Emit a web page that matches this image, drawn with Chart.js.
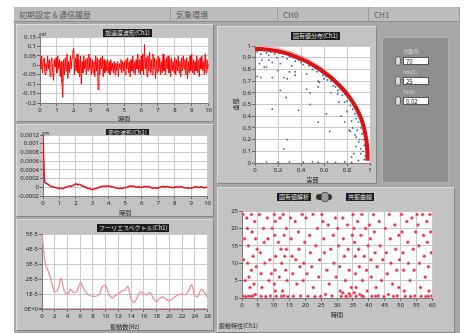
<!DOCTYPE html>
<html>
<head>
<meta charset="utf-8">
<script src="https://cdn.jsdelivr.net/npm/chart.js@4/dist/chart.umd.min.js"></script>
<style>
  body { margin: 0; width: 466px; height: 333px; background: #fff; position: relative; overflow: hidden;
         font-family: "Noto Sans CJK JP", "Noto Sans", sans-serif; }
  .abs { position: absolute; }
  #frame { left: 14px; top: 7px; width: 446px; height: 326px; background: #a8a8a8; }
  .tab { top: 7px; height: 15px; background: #bdbdbd; border-right: 1px solid #9a9a9a; border-bottom: 1px solid #8e8e8e;
         font-size: 8px; line-height: 15px; color: #5a5a5a; padding-left: 5px; box-sizing: border-box; }
  .panel { background: #c3c3c3; border: 1px solid; border-color: #dcdcdc #858585 #858585 #dcdcdc; box-sizing: border-box; }
  .ttl { background: #1a1a1a; color: #e8e8e8; font-size: 6px; line-height: 8px; padding: 0 2px; white-space: nowrap; }
  .unit { font-size: 5px; color: #222; }
  .lbl { font-size: 6px; color: #222; white-space: nowrap; }
  canvas { position: absolute; }
  .num { background: #fff; border: 1px solid #555; font-size: 6px; line-height: 7px; color: #111; padding-left: 2px; box-sizing: border-box; }
  .spin { background: #d8d8d8; border: 1px solid #666; border-radius: 3px; box-sizing: border-box; }
</style>
</head>
<body>
<div id="frame" class="abs"></div>
<div class="abs tab" style="left:14px;width:157px;">初期設定＆通信履歴</div>
<div class="abs tab" style="left:171px;width:107px;">気象環境</div>
<div class="abs tab" style="left:278px;width:91px;">CH0</div>
<div class="abs tab" style="left:369px;width:91px;">CH1</div>

<div class="abs panel" style="left:16px;top:24px;width:198px;height:98px;"></div>
<div class="abs panel" style="left:16px;top:124px;width:198px;height:93px;"></div>
<div class="abs panel" style="left:16px;top:219px;width:198px;height:112px;"></div>
<div class="abs panel" style="left:217px;top:26px;width:160px;height:158px;"></div>
<div class="abs" style="left:382px;top:37px;width:67px;height:146px;background:#8e8e8e;border:1px solid #b0b0b0;box-sizing:border-box;"></div>
<div class="abs panel" style="left:217px;top:187px;width:238px;height:146px;"></div>

<div class="abs ttl" style="left:103px;top:29px;">加速度波形(Ch1)</div>
<div class="abs ttl" style="left:106px;top:129px;">変位波形(Ch1)</div>
<div class="abs ttl" style="left:97px;top:224px;">フーリエスペクトル(Ch1)</div>
<div class="abs ttl" style="left:291px;top:32px;">固有値分布(Ch1)</div>
<div class="abs ttl" style="left:277px;top:193px;">固有値解析</div>
<div class="abs" style="left:316px;top:194px;width:16px;height:6px;background:#333;border-radius:3px;"></div>
<div class="abs" style="left:321px;top:192px;width:8px;height:10px;background:#9a9a9a;border-radius:3px;border:1px solid #555;box-sizing:border-box;"></div>
<div class="abs ttl" style="left:346px;top:193px;">共振曲線</div>
<div class="abs lbl" style="left:219px;top:321px;">振動特性(Ch1)</div>

<div class="abs unit" style="left:39px;top:30px;">gal</div>
<div class="abs unit" style="left:42px;top:129px;">cm</div>

<div class="abs lbl" style="left:403px;top:47px;font-size:5px;color:#ddd;">次数(0)</div>
<div class="abs spin" style="left:395px;top:56px;width:6px;height:10px;"></div>
<div class="abs num" style="left:403px;top:57px;width:26px;height:8px;">70</div>
<div class="abs lbl" style="left:403px;top:68px;font-size:5px;color:#ddd;">nm(0)</div>
<div class="abs spin" style="left:395px;top:76px;width:6px;height:10px;"></div>
<div class="abs num" style="left:403px;top:77px;width:26px;height:8px;">25</div>
<div class="abs lbl" style="left:403px;top:88px;font-size:5px;color:#ddd;">Fe(0)</div>
<div class="abs spin" style="left:395px;top:96px;width:6px;height:10px;"></div>
<div class="abs num" style="left:403px;top:97px;width:26px;height:8px;">0.02</div>

<canvas id="c1" width="197" height="92" style="left:16px;top:30px;"></canvas>
<canvas id="c2" width="196" height="88" style="left:16px;top:128px;"></canvas>
<canvas id="c3" width="196" height="104" style="left:16px;top:226px;"></canvas>
<canvas id="c4" width="142" height="143" style="left:232px;top:40px;"></canvas>
<canvas id="c5" width="215" height="114" style="left:222px;top:204px;"></canvas>

<script>
// ── Data ─────────────────────────────────────────────────
const ACC_DT = 0.05;   // s
const ACC = [
  0.03,-0.02,0.05,-0.04,0.02,0.04,-0.05,0.01,-0.03,0.05,-0.02,0.03,-0.06,0.02,0.04,-0.03,-0.08,0.03,-0.01,0.04,
  -0.04,0.05,-0.02,0.03,-0.06,0.02,-0.09,-0.17,0.03,-0.05,0.04,-0.03,0.06,-0.07,0.02,-0.04,0.05,-0.02,0.04,0.07,
  0.09,-0.05,0.04,-0.03,0.06,-0.04,0.03,-0.06,0.05,-0.1,0.02,-0.04,0.05,-0.02,0.03,-0.05,0.04,-0.03,0.06,-0.02,
  0.04,-0.05,0.03,-0.04,0.02,-0.06,0.05,-0.03,0.04,-0.13,0.03,-0.05,0.04,-0.02,0.05,-0.06,0.03,-0.04,0.02,-0.03,
  0.03,-0.04,0.02,-0.05,0.03,-0.03,0.01,-0.04,0.02,-0.05,0.01,-0.03,0.02,-0.06,0.01,-0.02,0.03,-0.04,0.02,-0.03,
  0.02,-0.05,0.03,-0.02,0.04,-0.04,0.02,-0.06,0.03,-0.03,0.05,-0.04,0.02,-0.05,0.03,-0.02,0.06,-0.04,0.03,-0.05,
  0.05,-0.03,0.06,-0.05,0.11,-0.02,0.04,-0.06,0.05,-0.03,0.07,-0.04,0.03,-0.05,0.06,-0.02,0.04,-0.07,0.03,-0.04,
  0.05,-0.03,0.04,-0.05,0.02,-0.04,0.06,-0.03,0.03,-0.05,0.04,-0.02,0.05,-0.04,0.03,-0.06,0.04,-0.03,0.02,-0.04,
  0.04,-0.05,0.03,-0.03,0.05,-0.04,0.02,-0.06,0.04,-0.03,0.05,-0.02,0.03,-0.05,0.04,-0.07,0.02,-0.04,0.05,-0.03,
  0.06,-0.04,0.03,-0.05,0.02,-0.03,0.05,-0.04,0.03,-0.06,0.04,-0.02,0.05,-0.03,0.02,-0.05,0.06,-0.04,0.03,-0.02,0.01
];

const DISP_DT = 0.1;   // s
const DISP = [
  0.0012,0.00012,0.00009,0.00007,0.00004,0.00002,0.00001,0.0,-0.00001,-0.00002,
  -0.00003,-0.00002,-0.00003,-0.00001,0.0,0.00002,0.00003,0.00002,0.00004,0.00006,
  0.00008,0.00006,0.00007,0.00005,0.00003,0.00002,0.0,-0.00002,-0.00003,-0.00004,
  -0.00005,-0.00004,-0.00003,-0.00002,0.0,0.00001,0.00002,0.00003,0.00002,0.00003,
  0.00003,0.00002,0.00001,0.0,-0.00001,-0.00002,-0.00003,-0.00002,-0.00003,-0.00001,
  -0.00001,0.0,0.00002,0.00003,0.00002,0.00003,0.00001,0.0,0.00001,0.0,
  0.0,0.00001,0.00002,0.00001,0.00002,0.0,-0.00001,-0.00002,-0.00001,-0.00002,
  -0.00001,0.0,0.00001,0.00002,0.00001,0.00002,0.00001,0.0,0.0,-0.00001,
  0.0,0.00001,0.0,0.00001,0.00001,0.0,-0.00001,-0.00001,-0.00002,-0.00001,
  -0.00002,-0.00001,0.0,0.00001,0.0,0.0,0.00001,0.0,-0.00001,0.0,0.0
];

const FFT_DF = 0.5;    // Hz
const FFT = [   // x 1E-5
  5.0,3.1,2.5,1.8,1.15,1.3,2.05,1.2,1.0,1.3,1.1,1.2,1.75,1.4,1.05,0.9,0.85,0.85,1.0,1.5,
  1.55,1.0,0.75,0.9,1.0,1.2,1.25,1.5,0.65,0.45,0.8,1.15,1.0,0.95,1.1,0.7,0.5,0.7,0.8,0.65,
  0.55,0.7,0.85,0.95,1.0,0.95,1.2,1.6,0.9,0.85,1.3,1.1,0.75
];

const ARC_OUTER = [
  [0,1.0],[0.1,0.995],[0.2,0.98],[0.3,0.954],[0.4,0.917],[0.5,0.866],[0.6,0.8],[0.7,0.714],
  [0.8,0.6],[0.85,0.527],[0.9,0.436],[0.95,0.312],[0.98,0.199],[0.995,0.1],[1.0,0.0]
];
const ARC_RED = [
  [0,0.975],[0.05,0.974],[0.1,0.97],[0.15,0.963],[0.2,0.955],[0.25,0.943],[0.3,0.928],[0.35,0.91],
  [0.4,0.89],[0.45,0.867],[0.5,0.84],[0.55,0.81],[0.6,0.775],[0.65,0.738],[0.7,0.695],[0.75,0.646],
  [0.8,0.59],[0.85,0.52],[0.88,0.47],[0.91,0.41],[0.93,0.36],[0.95,0.29],[0.96,0.24],[0.97,0.18],
  [0.975,0.12],[0.978,0.06],[0.978,0.02]
];
const EIG_PTS = [
  [0.02,0.95],[0.05,0.93],[0.08,0.96],[0.1,0.94],[0.12,0.92],[0.14,0.95],[0.17,0.93],[0.19,0.9],
  [0.21,0.94],[0.24,0.91],[0.26,0.93],[0.28,0.89],[0.3,0.91],[0.33,0.9],[0.35,0.87],[0.38,0.88],
  [0.4,0.86],[0.42,0.84],[0.44,0.86],[0.47,0.83],[0.5,0.8],[0.52,0.82],[0.54,0.78],[0.57,0.79],
  [0.59,0.75],[0.62,0.74],[0.63,0.71],[0.66,0.7],[0.68,0.66],[0.7,0.68],[0.72,0.62],[0.74,0.63],
  [0.76,0.58],[0.78,0.59],[0.8,0.53],[0.81,0.56],[0.83,0.49],[0.85,0.46],[0.86,0.5],[0.87,0.42],
  [0.88,0.38],[0.9,0.35],[0.9,0.4],[0.92,0.3],[0.93,0.25],[0.93,0.32],[0.94,0.2],[0.95,0.15],
  [0.94,0.1],[0.96,0.06],[0.95,0.03],[0.92,0.12],[0.91,0.2],[0.89,0.28],
  [0.06,0.88],[0.15,0.86],[0.22,0.85],[0.32,0.83],[0.45,0.76],[0.56,0.69],[0.66,0.6],[0.73,0.52],
  [0.8,0.44],[0.84,0.36],[0.87,0.24],[0.88,0.14],[0.86,0.08],
  [0.04,0.85],[0.08,0.82],[0.1,0.82],[0.12,0.88],[0.02,0.74],[0.05,0.73],[0.15,0.73],[0.2,0.79],
  [0.25,0.73],[0.3,0.78],[0.35,0.75],[0.35,0.78],[0.28,0.72],[0.22,0.62],[0.27,0.56],[0.38,0.45],
  [0.15,0.46],[0.28,0.2],[0.25,0.12],[0.45,0.63],[0.48,0.6],[0.48,0.5],[0.55,0.65],[0.55,0.7],
  [0.6,0.72],[0.62,0.42],[0.55,0.35],[0.65,0.27],[0.7,0.65],[0.72,0.59],[0.75,0.4],[0.78,0.35],
  [0.82,0.28],[0.83,0.27],[0.78,0.52],[0.85,0.3],[0.88,0.22],[0.9,0.18],[0.92,0.08],[0.84,0.05],[0.9,0.02],
  [0.1,0.01],[0.2,0.005],[0.3,0.01],[0.42,0.008],[0.5,0.01],[0.55,0.005],[0.63,0.01],[0.7,0.006],[0.78,0.01],[0.84,0.005]
];

const VIB_PTS = [
  [0.3,24],[0.8,17],[0.5,11],[1,5],[0.3,0.5],[1.5,23],[1.7,20],[2,15],[1.8,10],[2.2,6],[2.5,3],[2,0.5],
  [3,24],[3.2,19],[3.5,12],[3,8],[3.8,4],[3.5,0.6],[4,22],[4.3,17],[4.5,9],[4.2,1],[4.8,14],[1.2,0.4],[2.8,0.5],
  [5.5,24],[5.8,13],[6,7],[6.3,3],[6,0.5],[6.8,20],[7,16],[7.2,10],[7.5,0.4],[8,23],[8.2,17],[8.5,5],[8.8,11],[9,0.6],[9.5,20],[9.3,7],
  [10.2,24],[10.5,22],[10.3,18],[10.6,12],[10.4,8],[10.2,4],[10.5,2],[10.8,0.5],[11.5,16],[11.8,6],[12,23],[12.3,14],
  [12.5,10],[12.8,2],[12.5,0.5],[13,24],[13.3,18],[13.5,12],[13.8,8],[14,20],[14.2,5],[14.5,0.4],[14,14],[13.2,0.6],
  [15.3,23],[15.5,17],[15.8,12],[16,7],[16.2,0.5],[16.8,22],[17,11],[17.3,4],[17.8,19],[18,14],[18.3,9],[18.5,0.6],
  [19,24],[19.3,5],[19.8,16],[19.5,10],
  [20.2,23],[20.5,7],[20.8,0.5],[21.3,18],[21.6,13],[22,9],[22.4,24],[22.5,3],[23,0.4],[23.3,15],[23.8,20],[24.2,6],[24.5,11],[24.8,0.5],
  [25.2,24],[25.5,22],[25.8,17],[26,13],[26.3,1],[26.8,8],[27.2,21],[27.5,4],[28,14],[28.4,0.6],[28.8,18],[29,10],[29.5,23],[29.7,6],
  [30.2,20],[30.5,15],[30.8,9],[31,2],[31.3,0.5],[31.8,23],[32,17],[32.3,12],[32.6,5],[33,0.4],[33.3,21],[33.5,14],
  [33.8,8],[34.2,0.6],[34.5,3],[34.8,18],[32.8,0.5],[31.8,1.5],[33.8,1.2],
  [35,24],[35.3,20],[35.5,16],[35.7,12],[35.8,7],[36,3],[36,0.5],[36.5,22],[36.8,14],[37,9],[37.2,1],[37.5,18],
  [37.8,24],[38,5],[38.3,0.4],[38.6,12],[39,20],[39.3,8],[39.5,2],[39.8,15],[37.8,0.6],[35.4,1.5],
  [40.2,21],[40.5,17],[40.7,11],[40.8,6],[41,0.5],[41.5,24],[41.8,19],[42,13],[42.3,3],[42.6,9],[43,0.6],[43.3,22],
  [43.6,15],[44,5],[44.4,11],[44.8,0.4],[42.2,0.5],
  [45.2,20],[45.5,13],[45.8,7],[46.2,1],[46.5,24],[46.8,17],[47,10],[47.5,4],[47.8,0.5],[48.2,21],[48.5,14],[48.8,8],
  [49,0.6],[49.5,18],[49.7,11],[49.5,3],
  [50.3,24],[50.5,19],[50.8,13],[51,8],[51.2,2],[51.5,0.5],[52,22],[52.3,16],[52.5,10],[53,5],[53.2,0.4],[53.6,23],
  [54,14],[54.3,8],[54.8,19],[54.5,0.6],
  [55.2,24],[55.5,21],[55.8,15],[56,10],[56.3,3],[56.5,0.5],[57,24],[57.3,18],[57.5,12],[57.8,6],[58,0.4],[58.3,22],
  [58.5,16],[58.8,9],[59,2],[59.3,24],[59.5,19],[59.7,13],[59.8,0.6],[58.7,0.5]
];

// ── Shared look ─────────────────────────────────────────
const FONT = { family: 'Noto Sans', size: 6 };
const FONT_T = { family: 'Noto Sans CJK JP', size: 6 };
const GRID = '#c9c9c9';

const plotBg = {
  id: 'plotBg',
  beforeDraw(c) {
    const { ctx, chartArea: a } = c;
    ctx.save();
    ctx.fillStyle = '#ffffff';
    ctx.fillRect(a.left, a.top, a.width, a.height);
    ctx.restore();
  }
};

function fmtNum(v) { return String(Number(v.toFixed(5))); }
function fmtExp(v) { return v.toExponential(0).toUpperCase(); }

function axis(horiz, min, max, step, size, fmt, title, gridColor) {
  return {
    type: 'linear', min, max,
    ticks: { stepSize: step, font: FONT, color: '#222', padding: 1, autoSkip: false, maxRotation: 0, callback: fmt },
    grid: { color: gridColor || GRID, tickLength: 3, tickColor: '#666' },
    border: { color: '#7a7a7a' },
    title: title ? { display: true, text: title, font: FONT_T, color: '#111', padding: 0 } : { display: false },
    afterFit: s => { if (horiz) s.height = size; else s.width = size; }
  };
}

function baseOptions(pad, xAx, yAx) {
  return {
    animation: false, responsive: false,
    layout: { padding: pad },
    plugins: { legend: { display: false }, tooltip: { enabled: false } },
    scales: { x: xAx, y: yAx }
  };
}

Chart.defaults.elements.point.radius = 0;

// ── Acceleration ───────────────────────────────────────
new Chart(document.getElementById('c1'), {
  type: 'line',
  data: { datasets: [{ data: ACC.map((v, i) => ({ x: i * ACC_DT, y: v })), borderColor: '#ff0000', borderWidth: 1, tension: 0 }] },
  options: baseOptions({ top: 7, right: 3 },
    axis(true, 0, 10, 1, 19, fmtNum, '時間'),
    axis(false, -0.2, 0.15, 0.05, 24, fmtNum)),
  plugins: [plotBg]
});

// ── Displacement ───────────────────────────────────────
new Chart(document.getElementById('c2'), {
  type: 'line',
  data: { datasets: [{ data: DISP.map((v, i) => ({ x: i * DISP_DT, y: v })), borderColor: '#e8141e', borderWidth: 1.6, tension: 0.3 }] },
  options: baseOptions({ top: 7, right: 3 },
    axis(true, 0, 10, 1, 20, fmtNum, '時間'),
    axis(false, -0.0002, 0.0012, 0.0002, 27, fmtNum)),
  plugins: [plotBg]
});

// ── Fourier spectrum ───────────────────────────────────
const yFft = axis(false, 0, 5e-5, 1e-5, 26, fmtExp, null, c => c.tick && c.tick.value === 0 ? '#f3a2aa' : GRID);
yFft.grid.lineWidth = c => c.tick && c.tick.value === 0 ? 2 : 1;
new Chart(document.getElementById('c3'), {
  type: 'line',
  data: { datasets: [{ data: FFT.map((v, i) => ({ x: i * FFT_DF, y: v * 1e-5 })), borderColor: '#f0909a', borderWidth: 1.3, tension: 0.4 }] },
  options: baseOptions({ top: 8, right: 3 },
    axis(true, 0, 26, 2, 21, fmtNum, '振動数(Hz)'),
    yFft),
  plugins: [plotBg]
});

// ── Eigenvalue distribution ────────────────────────────
new Chart(document.getElementById('c4'), {
  type: 'scatter',
  data: { datasets: [
    { data: EIG_PTS.map(p => ({ x: p[0], y: p[1] })), pointRadius: 0.9, pointBackgroundColor: '#4a5a8c', pointBorderWidth: 0, order: 1 },
    { data: ARC_RED.map(p => ({ x: p[0], y: p[1] })), showLine: true, borderColor: '#e01010', borderWidth: 4, pointRadius: 0, tension: 0.3, order: 2 },
    { data: ARC_OUTER.map(p => ({ x: p[0], y: p[1] })), showLine: true, borderColor: '#f0a0a0', borderWidth: 1, pointRadius: 0, tension: 0.3, order: 3 }
  ] },
  options: baseOptions({ top: 6, right: 3 },
    axis(true, 0, 1, 0.2, 20, fmtNum, '実部'),
    axis(false, 0, 1, 0.1, 23, fmtNum, '虚部')),
  plugins: [plotBg]
});

// ── Vibration characteristics ──────────────────────────
new Chart(document.getElementById('c5'), {
  type: 'scatter',
  data: { datasets: [{ data: VIB_PTS.map(p => ({ x: p[0], y: p[1] })), pointRadius: 1.5,
    pointBackgroundColor: '#e0203a', pointBorderColor: 'rgba(245,150,165,0.9)', pointBorderWidth: 0.8 }] },
  options: baseOptions({ top: 7, right: 4 },
    axis(true, 0, 60, 5, 20, fmtNum, '時間'),
    axis(false, 0, 25, 5, 20, fmtNum)),
  plugins: [plotBg]
});
</script>
</body>
</html>
